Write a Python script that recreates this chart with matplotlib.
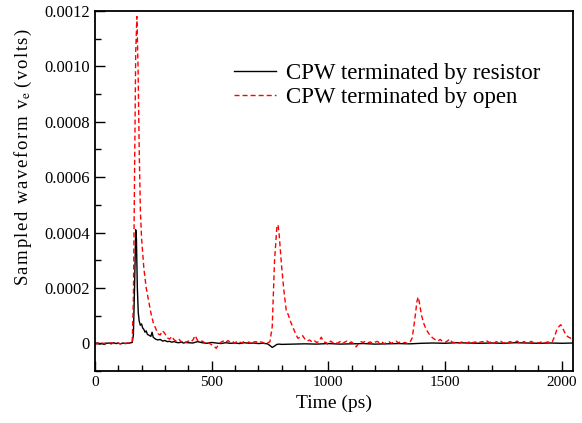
import numpy as np
import matplotlib
matplotlib.use("Agg")
import matplotlib.pyplot as plt
from matplotlib.ticker import MultipleLocator, FuncFormatter

plt.rcParams['font.family'] = ['Liberation Serif', 'DejaVu Serif']
plt.rcParams['mathtext.fontset'] = 'stix'

# values, time in ps, voltage in microvolts
t_open = [0, 10, 20, 30, 40, 50, 60, 70, 80, 90, 100, 110, 120, 130, 140, 150, 160,
          165, 170, 175, 180, 185, 190, 195, 200, 210, 220, 230, 240, 250, 260, 270,
          280, 290, 300, 310, 320, 330, 340, 350, 360, 370, 380, 390, 400, 410, 420,
          430, 440, 450, 460, 470, 480, 490, 500, 510, 520, 530, 540, 550, 560, 570,
          580, 590, 600, 610, 620, 630, 640, 650, 660, 670, 680, 690, 700, 710, 720,
          730, 740, 750, 760, 770, 780, 785, 790, 800, 810, 820, 830, 840, 850, 860,
          870, 880, 890, 900, 910, 920, 930, 940, 950, 960, 970, 980, 990, 1000, 1010,
          1020, 1030, 1040, 1050, 1060, 1070, 1080, 1090, 1100, 1110, 1120, 1130, 1140,
          1150, 1160, 1170, 1180, 1190, 1200, 1210, 1220, 1230, 1240, 1250, 1260, 1270,
          1280, 1290, 1300, 1310, 1320, 1330, 1340, 1350, 1360, 1370, 1380, 1385, 1390,
          1400, 1410, 1420, 1430, 1440, 1450, 1460, 1470, 1480, 1490, 1500, 1510, 1520,
          1530, 1540, 1550, 1560, 1570, 1580, 1590, 1600, 1610, 1620, 1630, 1640, 1650,
          1660, 1670, 1680, 1690, 1700, 1710, 1720, 1730, 1740, 1750, 1760, 1770, 1780,
          1790, 1800, 1810, 1820, 1830, 1840, 1850, 1860, 1870, 1880, 1890, 1900, 1910,
          1920, 1930, 1940, 1950, 1960, 1970, 1980, 1990, 1996, 2000, 2010, 2020, 2030,
          2040, 2050]
v_open = [2, -3, 4, 1, -2, 3, 0, 2, -1, 3, 1, -2, 2, 0, 1, 2, 5,
          150, 600, 1050, 1180, 1000, 700, 480, 380, 270, 200, 155, 110, 75, 55, 35,
          30, 45, 35, 20, 15, 25, 12, 8, 15, 5, 10, 3, 8, 4, 12,
          28, 10, 5, 8, 2, 6, 0, -5, -10, -18, -5, 4, 8, 2, 10,
          3, 6, 1, 8, 4, 2, 6, 0, 5, -3, 4, 6, 1, 5, 3,
          -2, 2, 5, 60, 300, 420, 428, 390, 280, 190, 120, 100, 75, 55, 35,
          18, 22, 28, 15, 8, 12, 5, 10, 3, 6, 22, 5, 3, -5, 8,
          2, 5, 0, 6, -2, 4, 8, 1, 5, -3, -13, 0, 6,
          3, 8, 2, 5, 0, 4, 7, 1, 5, -2, 3, 6, 0,
          4, 8, 2, 5, 1, 3, -1, 3, 20, 80, 150, 167, 150,
          100, 70, 50, 36, 25, 18, 12, 8, 14, 6, 3, 8, 15,
          5, 2, 6, 0, 4, 7, 1, 3, 8, 2, 5, 0, 4,
          6, 2, 8, 3, 5, 0, 6, 2, 7, 1, 4, 3, 6,
          2, 5, 8, 1, 4, 6, 0, 3, 7, 2, 5, 1, 4,
          6, 2, 5, 3, 5, 25, 50, 62, 67, 62, 45, 28, 22,
          18, 16]

t_res = [0, 10, 20, 30, 40, 50, 60, 70, 80, 90, 100, 110, 120, 130, 140, 150, 160,
         165, 170, 175, 178, 182, 186, 190, 195, 200, 205, 210, 215, 220, 225, 230,
         240, 245, 250, 260, 270, 280, 290, 300, 310, 320, 330, 340, 350, 360, 370,
         380, 390, 400, 420, 440, 460, 480, 500, 520, 540, 560, 580, 600, 620, 640,
         660, 680, 700, 720, 740, 750, 760, 770, 780, 790, 800, 850, 900, 950, 1000,
         1050, 1100, 1150, 1200, 1250, 1300, 1350, 1400, 1450, 1500, 1550, 1600, 1650,
         1700, 1750, 1800, 1850, 1900, 1950, 2000, 2050]
v_res = [-2, 1, -3, -1, -4, 0, 1, -2, 2, -1, 0, -2, 1, -1, 0, 1, 3,
         30, 200, 410, 380, 200, 110, 80, 65, 70, 55, 50, 40, 45, 32, 30,
         25, 40, 22, 15, 12, 14, 8, 10, 6, 7, 4, 6, 3, 2, 4,
         1, 3, 2, 1, 6, 2, 0, 3, 1, -1, 2, 0, 1, -1, 2,
         0, 1, -1, 0, -2, -8, -15, -10, -4, -3, -4, -3, -2, -3, -1,
         -3, -2, -1, -3, -2, -1, -2, 0, 1, 0, 2, 1, 0,
         1, 0, 2, 1, 0, 1, 0, 1]

fig, ax = plt.subplots(figsize=(5.82, 4.23), dpi=100)
fig.subplots_adjust(left=0.163, right=0.985, top=0.974, bottom=0.123)

ax.plot(t_res, np.array(v_res) * 1e-6, color='black', lw=1.0,
        label='CPW terminated by resistor')
ax.plot(t_open, np.array(v_open) * 1e-6, color='red', lw=1.0,
        dashes=(3.6, 2.2), label='CPW terminated by open')

ax.set_xlim(0, 2050)
ax.set_ylim(-0.0001, 0.0012)
ax.xaxis.set_major_locator(MultipleLocator(500))
ax.xaxis.set_minor_locator(MultipleLocator(100))
ax.yaxis.set_major_locator(MultipleLocator(0.0002))
ax.yaxis.set_minor_locator(MultipleLocator(0.0001))
ax.yaxis.set_major_formatter(FuncFormatter(lambda v, p: '0' if abs(v) < 1e-9 else f'{v:.4f}'))
ax.tick_params(which='both', direction='in', top=False, right=False)
ax.tick_params(axis='x', labelsize=11)
ax.tick_params(axis='y', labelsize=12)
ax.tick_params(which='major', length=7, width=1)
ax.tick_params(which='minor', length=4, width=1)
for s in ax.spines.values():
    s.set_linewidth(1.3)

ax.set_xlabel('Time (ps)', fontsize=14)
# the original label is letter-spaced, hair spaces give a similar look
hs = '\u200a'
ylab = hs.join('Sampled waveform v') + '$_\\mathrm{e}$ ' + hs.join('(volts)')
ax.set_ylabel(ylab, fontsize=13.5)
ax.yaxis.set_label_coords(-0.127, 0.594)

ax.legend(loc='upper left', bbox_to_anchor=(0.247, 0.912), frameon=False,
          fontsize=16.5, handlelength=1.85, handletextpad=0.45, labelspacing=0.1)

plt.savefig("out.png")
